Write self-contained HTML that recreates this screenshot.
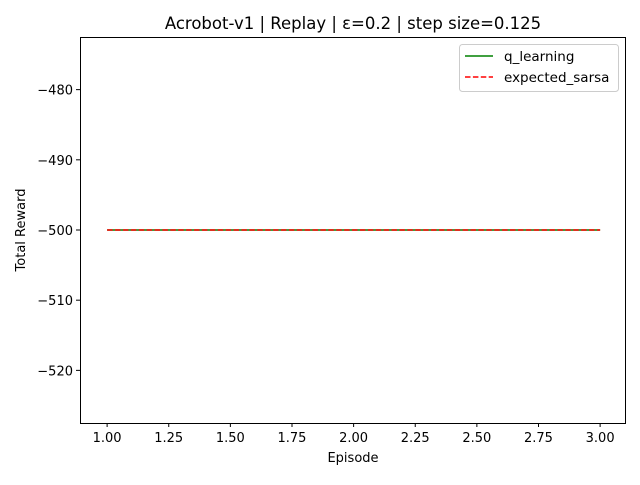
<!DOCTYPE html>
<html><head><meta charset="utf-8"><style>
body{margin:0;background:#fff;font-family:"Liberation Sans","DejaVu Sans",sans-serif}
</style></head><body>
<svg id="chart" width="640" height="480" xmlns="http://www.w3.org/2000/svg" font-family="DejaVu Sans, Liberation Sans, sans-serif">
<rect width="640" height="480" fill="#fff"/>
<text x="353" y="29" text-anchor="middle" font-size="16.5" fill="#000">Acrobot-v1 | Replay | ε=0.2 | step size=0.125</text>
<g id="ticks"></g>
<g id="series"></g>
<rect x="80.5" y="37.5" width="545" height="386" fill="none" stroke="#000" stroke-width="1"/>
<text x="353" y="462" text-anchor="middle" font-size="13">Episode</text>
<text transform="translate(25,230) rotate(-90)" text-anchor="middle" font-size="13">Total Reward</text>
<g>
<rect x="459.5" y="44.5" width="159" height="47" rx="3" fill="#fff" stroke="#ccc"/>
<line x1="465" y1="56" x2="493" y2="56" stroke="green" stroke-width="1.5"/>
<text x="504" y="61" font-size="13.5">q_learning</text>
<line x1="465" y1="77" x2="493" y2="77" stroke="red" stroke-width="1.5" stroke-dasharray="5.5,2.4"/>
<text x="504" y="82" font-size="13.5">expected_sarsa</text>
</g>
</svg>
<script>
const episodes=[1,2,3];
const qLearning=[-500,-500,-500];
const expectedSarsa=[-500,-500,-500];
const xTicks=[1.00,1.25,1.50,1.75,2.00,2.25,2.50,2.75,3.00];
const yTicks=[-480,-490,-500,-510,-520];
const NS="http://www.w3.org/2000/svg";
const L=80,R=626,T=37,B=423;
const xmin=0.89,xmax=3.105,ymin=-527.5,ymax=-472.5;
function xs(v){return L+(v-xmin)/(xmax-xmin)*(R-L);}
function ys(v){return B-(v-ymin)/(ymax-ymin)*(B-T);}
const tg=document.getElementById('ticks');
xTicks.forEach(t=>{
 const x=xs(t);
 const l=document.createElementNS(NS,'line');
 l.setAttribute('x1',x);l.setAttribute('x2',x);l.setAttribute('y1',B);l.setAttribute('y2',B+4);l.setAttribute('stroke','#000');
 
 
 tg.appendChild(l);
 const s=document.createElementNS(NS,'text');
 s.setAttribute('x',x);s.setAttribute('y',B+19);s.setAttribute('text-anchor','middle');s.setAttribute('font-size','13');
 s.textContent=t.toFixed(2);
 
 
 tg.appendChild(s);
});
yTicks.forEach(t=>{
 const y=ys(t);
 const l=document.createElementNS(NS,'line');
 l.setAttribute('x1',L-4);l.setAttribute('x2',L);l.setAttribute('y1',y);l.setAttribute('y2',y);l.setAttribute('stroke','#000');
 
 
 tg.appendChild(l);
 const s=document.createElementNS(NS,'text');
 s.setAttribute('x',L-7);s.setAttribute('y',y+5);s.setAttribute('text-anchor','end');s.setAttribute('font-size','13');
 s.textContent='\u2212'+Math.abs(t);
 
 
 tg.appendChild(s);
});
const sg=document.getElementById('series');
function line(vals,color,dash,name){
 const p=document.createElementNS(NS,'polyline');
 p.setAttribute('points',episodes.map((e,i)=>xs(e)+','+ys(vals[i])).join(' '));
 p.setAttribute('fill','none');p.setAttribute('stroke',color);p.setAttribute('stroke-width','1.5');
 if(dash)p.setAttribute('stroke-dasharray',dash);
 
 
 sg.appendChild(p);
}
line(qLearning,'green',null,'q-learning-line');
line(expectedSarsa,'red','5.5,2.4','expected-sarsa-line');
</script>
</body></html>
